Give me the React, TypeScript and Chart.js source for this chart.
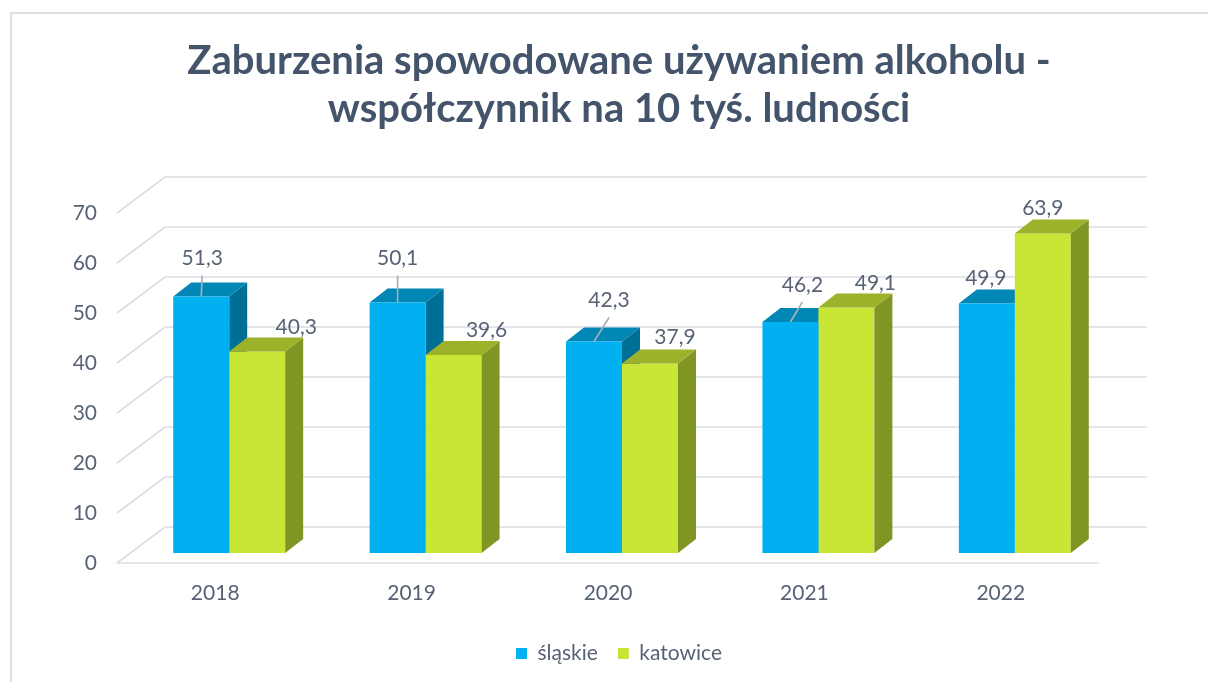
import React, { useEffect, useRef } from 'react';
import { Chart, registerables } from 'chart.js';

Chart.register(...registerables);

// ---- data ----
const categories = ['2018', '2019', '2020', '2021', '2022'];
const seriesNames = ['śląskie', 'katowice'];
const slaskieValues = [51.3, 50.1, 42.3, 46.2, 49.9];
const katowiceValues = [40.3, 39.6, 37.9, 49.1, 63.9];
const yTickValues = [0, 10, 20, 30, 40, 50, 60, 70];
const titleLines = ['Zaburzenia spowodowane używaniem alkoholu -', 'współczynnik na 10 tyś. ludności'];

// ---- style ----
const FONT = 'Lato';
const TEXT = '#586275';
const TITLE_COLOR = '#44546A';
const GRID = '#DADDE4';
const FRONT = ['#00B0F0', '#C9E535'];
const TOP = ['#0087B5', '#9DB22B'];
const SIDE = ['#006F95', '#809624'];
const BAR_SHIFT = { x: 14, y: -10 };
const BAR_DEPTH = { x: 18, y: -14 };
const WALL_DEPTH = { x: 48, y: -36 };
// label offsets relative to bar front-top centre (screen px)
const labelOffsets = [
  [[1, -38], [0, -44], [15, -41], [12, -37], [-1, -25]],
  [[39, -24], [33, -25], [25, -26], [29, -24], [0, -25]],
];

const fmt = (v: number) => v.toFixed(1).replace('.', ',');

function drawFaces(ctx: CanvasRenderingContext2D, meta: any, di: number) {
  meta.data.forEach((el: any) => {
    const l = el.x - el.width / 2;
    const r = el.x + el.width / 2;
    const t = el.y;
    const b = el.base;
    ctx.fillStyle = SIDE[di];
    ctx.beginPath();
    ctx.moveTo(r, t);
    ctx.lineTo(r + BAR_DEPTH.x, t + BAR_DEPTH.y);
    ctx.lineTo(r + BAR_DEPTH.x, b + BAR_DEPTH.y);
    ctx.lineTo(r, b);
    ctx.closePath();
    ctx.fill();
    ctx.fillStyle = TOP[di];
    ctx.beginPath();
    ctx.moveTo(l, t);
    ctx.lineTo(r, t);
    ctx.lineTo(r + BAR_DEPTH.x, t + BAR_DEPTH.y);
    ctx.lineTo(l + BAR_DEPTH.x, t + BAR_DEPTH.y);
    ctx.closePath();
    ctx.fill();
  });
}

const threeD = {
  id: 'threeD',
  beforeDatasetsDraw(chart: any) {
    const ctx = chart.ctx;
    const y = chart.scales.y;
    const { left, right } = chart.chartArea;
    ctx.save();
    ctx.strokeStyle = GRID;
    ctx.lineWidth = 1.6;
    yTickValues.forEach((v) => {
      const py = y.getPixelForValue(v);
      ctx.beginPath();
      ctx.moveTo(left, py);
      ctx.lineTo(left + WALL_DEPTH.x, py + WALL_DEPTH.y);
      ctx.lineTo(right + WALL_DEPTH.x, py + WALL_DEPTH.y);
      ctx.stroke();
      if (v === 0) {
        ctx.beginPath();
        ctx.moveTo(left, py);
        ctx.lineTo(right, py);
        ctx.stroke();
      }
    });
    ctx.restore();
    ctx.save();
    ctx.translate(BAR_SHIFT.x, BAR_SHIFT.y);
  },
  // dataset 1 (katowice) is drawn first by Chart.js; the śląskie side/top faces
  // must sit behind the katowice front faces, so draw them before it.
  beforeDatasetDraw(chart: any, args: any) {
    if (args.index === 1) drawFaces(chart.ctx, chart.getDatasetMeta(0), 0);
  },
  afterDatasetDraw(chart: any, args: any) {
    if (args.index === 1) drawFaces(chart.ctx, args.meta, 1);
  },
  afterDatasetsDraw(chart: any) {
    const ctx = chart.ctx;
    ctx.restore();
    ctx.save();
    ctx.font = `21px ${FONT}`;
    ctx.fillStyle = TEXT;
    ctx.textAlign = 'center';
    ctx.textBaseline = 'middle';
    chart.data.datasets.forEach((ds: any, di: number) => {
      const meta = chart.getDatasetMeta(di);
      meta.data.forEach((el: any, i: number) => {
        const sx = el.x + BAR_SHIFT.x;
        const sy = el.y + BAR_SHIFT.y;
        const [ox, oy] = labelOffsets[di][i];
        const lx = sx + ox;
        const ly = sy + oy;
        if (di === 0) {
          const startY = ly + 17;
          const len = Math.hypot(sx - lx, sy - startY);
          if (len > 12) {
            ctx.strokeStyle = '#A7AFBC';
            ctx.lineWidth = 1.6;
            ctx.beginPath();
            ctx.moveTo(lx, startY);
            ctx.lineTo(sx, sy);
            ctx.stroke();
          }
        }
        ctx.fillText(fmt(ds.data[i]), lx, ly);
      });
    });
    ctx.restore();
  },
};

export default function App() {
  const ref = useRef<HTMLCanvasElement>(null);
  useEffect(() => {
    if (!ref.current) return;
    const chart = new Chart(ref.current, {
      type: 'bar',
      data: {
        labels: categories,
        datasets: [
          { label: seriesNames[0], data: slaskieValues, backgroundColor: FRONT[0], borderWidth: 0 },
          { label: seriesNames[1], data: katowiceValues, backgroundColor: FRONT[1], borderWidth: 0 },
        ],
      },
      options: {
        responsive: false,
        animation: false,
        devicePixelRatio: 1,
        layout: { padding: { left: 30, right: 0, top: 0, bottom: 8 } },
        datasets: { bar: { categoryPercentage: 0.57, barPercentage: 1 } },
        scales: {
          x: {
            grid: { display: false, drawTicks: false },
            border: { display: false },
            ticks: { padding: 18, color: TEXT, font: { family: FONT, size: 21 } },
            afterFit: (s: any) => { s.height = 60; },
          },
          y: {
            min: 0,
            max: 70,
            grid: { display: false, drawTicks: false },
            border: { display: false },
            ticks: { stepSize: 10, padding: 20, color: TEXT, font: { family: FONT, size: 21 } },
            afterFit: (s: any) => { s.width = 87; },
          },
          yR: {
            type: 'linear',
            position: 'right',
            display: true,
            grid: { display: false, drawTicks: false },
            border: { display: false },
            ticks: { display: false },
            afterFit: (s: any) => { s.width = 109; },
          },
        },
        plugins: {
          title: {
            display: true,
            text: titleLines,
            color: TITLE_COLOR,
            font: { family: FONT, size: 40, weight: 'bold', lineHeight: 1.2 },
            padding: { top: 37, bottom: 80 },
          },
          legend: {
            position: 'bottom',
            labels: {
              boxWidth: 11,
              boxHeight: 11,
              padding: 20,
              color: TEXT,
              font: { family: FONT, size: 21 },
            },
          },
          tooltip: { enabled: false },
        },
      } as any,
      plugins: [threeD],
    });
    return () => chart.destroy();
  }, []);

  return (
    <div style={{ position: 'fixed', left: 0, top: 0, width: 1208, height: 682, background: '#fff', overflow: 'hidden' }}>
      <div
        style={{
          position: 'absolute',
          left: 10,
          top: 12,
          width: 1300,
          height: 800,
          borderTop: '2px solid #DCE0E6',
          borderLeft: '2px solid #DCE0E6',
        }}
      />
      <canvas ref={ref} width={1208} height={682} style={{ position: 'absolute', left: 0, top: 0 }} />
    </div>
  );
}
